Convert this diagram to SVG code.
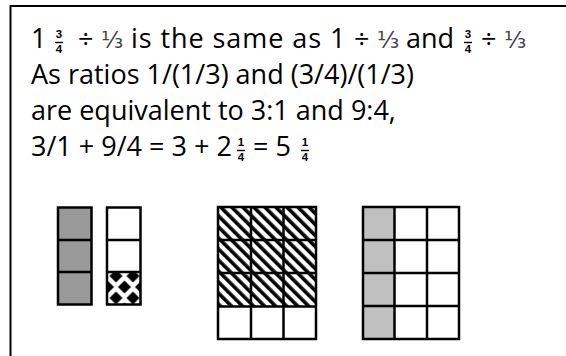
<svg xmlns="http://www.w3.org/2000/svg" width="566" height="356" viewBox="0 0 566 356">
<style>
.t{font-family:"Open Sans","Liberation Sans",sans-serif;font-size:27px;fill:#000}
.f{font-family:"Liberation Sans",sans-serif;font-size:11.5px;font-weight:bold;fill:#000;text-anchor:middle}
.th{font-family:"DejaVu Sans",sans-serif;font-size:23px;fill:#444}
.bar{stroke:#000;stroke-width:1.4}
.g{stroke:#000;stroke-width:2.5;fill:none}
</style>
<defs>
<pattern id="hatch" patternUnits="userSpaceOnUse" width="7.8" height="7.8" patternTransform="rotate(-45)">
<rect width="7.8" height="7.8" fill="#fff"/><rect width="3.6" height="7.8" fill="#000"/>
</pattern>
<pattern id="dia" patternUnits="userSpaceOnUse" x="107.5" y="265" width="17" height="22">
<rect width="17" height="22" fill="#fff"/>
<polygon points="8.5,4.5 15,11 8.5,17.5 2,11" fill="#000"/>
<polygon points="0,-6.5 6.5,0 0,6.5 -6.5,0" fill="#000"/>
<polygon points="17,-6.5 23.5,0 17,6.5 10.5,0" fill="#000"/>
<polygon points="0,15.5 6.5,22 0,28.5 -6.5,22" fill="#000"/>
<polygon points="17,15.5 23.5,22 17,28.5 10.5,22" fill="#000"/>
</pattern>
</defs>
<rect x="10.5" y="6" width="600" height="400" fill="#fff" stroke="#000" stroke-width="2"/>
<g id="line1">
<text class="t" x="31" y="48">1</text>
<text class="f" x="59" y="38">3</text><line class="bar" x1="55" y1="42.5" x2="63" y2="42.5"/><text class="f" x="59" y="53">4</text>
<text class="t" x="78" y="48">÷</text>
<text class="th" x="101" y="48">⅓</text>
<text class="t" x="131" y="48" textLength="190" lengthAdjust="spacing">is the same as</text>
<text class="t" x="330" y="48">1</text>
<text class="t" x="354" y="48">÷</text>
<text class="th" x="377" y="48">⅓</text>
<text class="t" x="406" y="48">and</text>
<text class="f" x="468" y="38">3</text><line class="bar" x1="464" y1="42.5" x2="472" y2="42.5"/><text class="f" x="468" y="53">4</text>
<text class="t" x="481" y="48">÷</text>
<text class="th" x="504" y="48">⅓</text>
</g>
<g id="line2">
<text class="t" x="31" y="84">As ratios 1/(1/3) and (3/4)/(1/3)</text>
</g>
<g id="line3">
<text class="t" x="31" y="120">are equivalent to 3:1 and 9:4,</text>
</g>
<g id="line4">
<text class="t" x="31" y="156">3/1 + 9/4 = 3 + 2</text>
<text class="f" x="241" y="146">1</text><line class="bar" x1="237" y1="150.5" x2="245" y2="150.5"/><text class="f" x="241" y="161">4</text>
<text class="t" x="253" y="156">= 5</text>
<text class="f" x="305" y="146">1</text><line class="bar" x1="301" y1="150.5" x2="309" y2="150.5"/><text class="f" x="305" y="161">4</text>
</g>
<g id="col-gray">
<rect x="58" y="207.5" width="33.5" height="97" fill="#999"/>
<rect class="g" x="58" y="207.5" width="33.5" height="97"/>
<line class="g" x1="58" y1="240" x2="91.5" y2="240"/>
<line class="g" x1="58" y1="272" x2="91.5" y2="272"/>
</g>
<g id="col-thirds">
<rect x="107" y="272" width="33.5" height="32.5" fill="url(#dia)"/>
<rect class="g" x="107" y="207.5" width="33.5" height="97"/>
<line class="g" x1="107" y1="240" x2="140.5" y2="240"/>
<line class="g" x1="107" y1="272" x2="140.5" y2="272"/>
</g>
<g id="grid-hatched">
<rect x="218" y="207" width="98" height="99.5" fill="url(#hatch)"/>
<rect class="g" x="218" y="207" width="98" height="132"/>
<line class="g" x1="251" y1="207" x2="251" y2="339"/>
<line class="g" x1="283.5" y1="207" x2="283.5" y2="339"/>
<line class="g" x1="218" y1="240" x2="316" y2="240"/>
<line class="g" x1="218" y1="273" x2="316" y2="273"/>
<line class="g" x1="218" y1="306.5" x2="316" y2="306.5"/>
</g>
<g id="grid-gray">
<rect x="363" y="207" width="31.5" height="132" fill="#c0c0c0"/>
<rect class="g" x="363" y="207" width="96" height="132"/>
<line class="g" x1="394.5" y1="207" x2="394.5" y2="339"/>
<line class="g" x1="427" y1="207" x2="427" y2="339"/>
<line class="g" x1="363" y1="240" x2="459" y2="240"/>
<line class="g" x1="363" y1="273" x2="459" y2="273"/>
<line class="g" x1="363" y1="306" x2="459" y2="306"/>
</g>
</svg>
